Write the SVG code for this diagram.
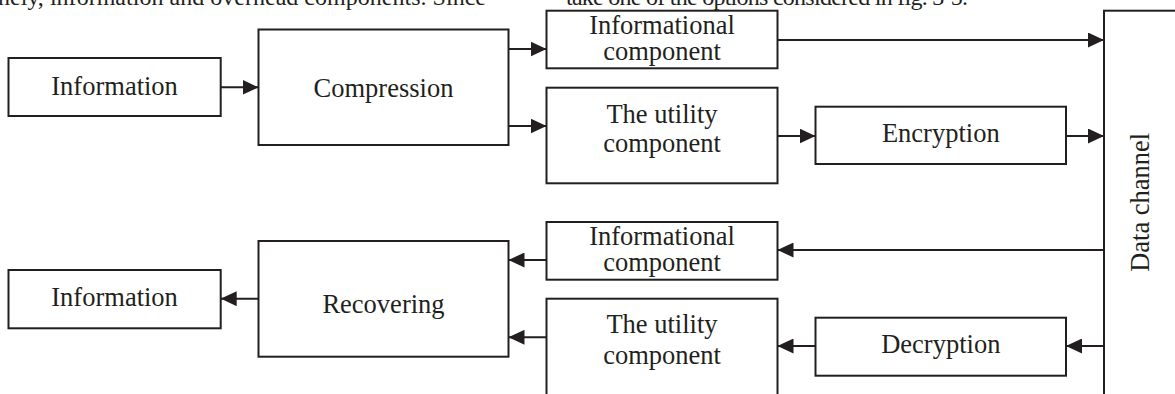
<svg xmlns="http://www.w3.org/2000/svg" width="1175" height="394" viewBox="0 0 1175 394">
<style>
.box{fill:#fff;stroke:#231f20;stroke-width:2}
.c{stroke:#231f20;stroke-width:2;fill:none;marker-end:url(#ah)}
text{font-family:"Liberation Serif","Times New Roman",serif;font-size:26.5px;fill:#231f20;text-anchor:middle}
.body{font-size:24px;text-anchor:start}
</style>
<defs>
<marker id="ah" viewBox="0 0 16 15" refX="16" refY="7.5" markerWidth="16" markerHeight="15" markerUnits="userSpaceOnUse" orient="auto">
<path d="M0,0 L16,7.5 L0,15 Z" fill="#231f20"/>
</marker>
</defs>
<rect width="1175" height="394" fill="#fff"/>
<text class="body" x="-2" y="4.5" textLength="488" lengthAdjust="spacing">nely, information and overhead components. Since</text>
<text class="body" x="566" y="4.5" textLength="402" lengthAdjust="spacing">take one of the options considered in fig. 3-5.</text>
<g id="connectors">
<line class="c" x1="220.7" y1="87.3" x2="258.5" y2="87.3"/>
<line class="c" x1="508.5" y1="49" x2="546.5" y2="49"/>
<line class="c" x1="508.5" y1="126" x2="546.5" y2="126"/>
<line class="c" x1="777.5" y1="40" x2="1104" y2="40"/>
<line class="c" x1="777.5" y1="136" x2="815.5" y2="136"/>
<line class="c" x1="1066" y1="136" x2="1104" y2="136"/>
<line class="c" x1="1104" y1="250" x2="777.5" y2="250"/>
<line class="c" x1="1104" y1="346" x2="1066" y2="346"/>
<line class="c" x1="815.5" y1="346" x2="777.5" y2="346"/>
<line class="c" x1="546.5" y1="260" x2="508.5" y2="260"/>
<line class="c" x1="546.5" y1="337.3" x2="508.5" y2="337.3"/>
<line class="c" x1="258.5" y1="298.7" x2="220.7" y2="298.7"/>
</g>
<g id="info-in"><rect class="box" x="8.5" y="58" width="212.2" height="58"/><text x="114.6" y="95">Information</text></g>
<g id="compression"><rect class="box" x="258.5" y="29.5" width="250" height="115.5"/><text x="383.5" y="96.5">Compression</text></g>
<g id="infocomp-tx"><rect class="box" x="546.5" y="10.7" width="231" height="57.6"/><text x="662" y="33.5">Informational</text><text x="662" y="59.5">component</text></g>
<g id="utility-tx"><rect class="box" x="546.5" y="87.7" width="231" height="95.6"/><text x="662" y="123">The utility</text><text x="662" y="152">component</text></g>
<g id="encryption"><rect class="box" x="815.5" y="106.7" width="250.5" height="57.3"/><text x="940.8" y="142">Encryption</text></g>
<g id="data-channel"><rect class="box" x="1104" y="10.7" width="80" height="400"/><text transform="translate(1149.3,202.3) rotate(-90)">Data channel</text></g>
<g id="infocomp-rx"><rect class="box" x="546.5" y="222" width="231" height="57.7"/><text x="662" y="244.7">Informational</text><text x="662" y="271.2">component</text></g>
<g id="utility-rx"><rect class="box" x="546.5" y="298.7" width="231" height="110"/><text x="662" y="333.3">The utility</text><text x="662" y="363.5">component</text></g>
<g id="decryption"><rect class="box" x="815.5" y="317.7" width="250.5" height="58"/><text x="940.8" y="353">Decryption</text></g>
<g id="recovering"><rect class="box" x="258.5" y="241" width="250" height="115.7"/><text x="383.5" y="313.2">Recovering</text></g>
<g id="info-out"><rect class="box" x="8.5" y="270" width="212.2" height="58.3"/><text x="114.6" y="305.7">Information</text></g>
</svg>
